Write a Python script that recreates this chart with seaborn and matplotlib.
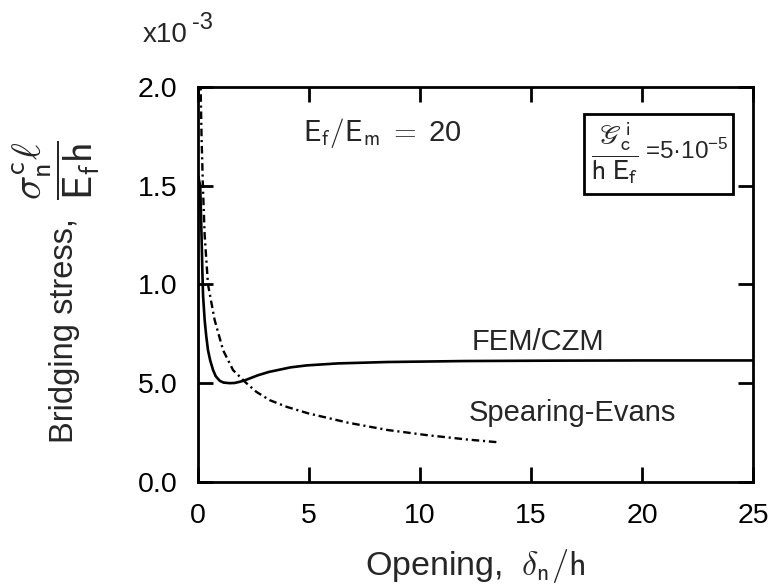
import matplotlib
matplotlib.use("Agg")
import matplotlib.pyplot as plt
from matplotlib.patches import Rectangle
import pandas as pd
import seaborn as sns

# --- data (stress in units of 1e-3) ---------------------------------------
fem_opening = [0.0, 0.0, 0.1, 0.17, 0.2, 0.23, 0.3, 0.37, 0.45, 0.55, 0.68,
               0.8, 0.98, 1.15, 1.43, 1.65, 1.88, 2.1, 2.33, 2.7, 3.2, 4.17,
               4.9, 6.3, 8.5, 12.0, 16.0, 20.0, 25.0]
fem_stress = [0.0, 1.55, 1.5, 1.2, 1.05, 0.94, 0.82, 0.74, 0.667, 0.615, 0.566,
              0.535, 0.512, 0.503, 0.5, 0.501, 0.507, 0.514, 0.524, 0.54, 0.557,
              0.58, 0.59, 0.6, 0.607, 0.612, 0.614, 0.615, 0.615]

se_opening = [0.11, 0.16, 0.22, 0.3, 0.45, 0.75, 1.13, 1.58, 2.18, 2.63, 3.23,
              4.0, 4.97, 6.75, 8.53, 10.3, 12.1, 13.6]
se_stress = [2.05, 1.75, 1.5, 1.25, 1.0, 0.82, 0.667, 0.566, 0.5, 0.456, 0.414,
             0.38, 0.347, 0.3, 0.263, 0.237, 0.215, 0.2]

x_ticks = [0, 5, 10, 15, 20, 25]
x_tick_labels = ["0", "5", "10", "15", "20", "25"]
y_ticks = [0.0, 0.5, 1.0, 1.5, 2.0]
y_tick_labels = ["0.0", "5.0", "1.0", "1.5", "2.0"]

# --- style ------------------------------------------------------------------
sns.set_style("ticks")
plt.rcParams["font.family"] = ["Liberation Sans", "DejaVu Sans"]
plt.rcParams["mathtext.fontset"] = "custom"
plt.rcParams["mathtext.rm"] = "Liberation Sans"
plt.rcParams["mathtext.it"] = "Liberation Sans:italic"
plt.rcParams["mathtext.bf"] = "Liberation Sans:bold"
plt.rcParams["mathtext.sf"] = "Liberation Sans"

fem = pd.DataFrame({"opening": fem_opening, "stress": fem_stress})
se = pd.DataFrame({"opening": se_opening, "stress": se_stress})

fig = plt.figure(figsize=(7.71, 5.87), dpi=100)
ax = fig.add_axes([0.2568, 0.179, 0.7199, 0.673])

sns.lineplot(data=fem, x="opening", y="stress", estimator=None, sort=False,
             color="black", lw=1.9, ax=ax)
sns.lineplot(data=se, x="opening", y="stress", estimator=None, sort=False,
             color="black", lw=1.7, linestyle=(0, (3.2, 1.6, 0.9, 1.6)), ax=ax)

ax.set_xlim(0, 25)
ax.set_ylim(0, 2.0)
ax.set_xticks(x_ticks, x_tick_labels)
ax.set_yticks(y_ticks, y_tick_labels)
ax.tick_params(axis="both", direction="in", length=11, width=2,
               top=True, right=True, labelsize=20.5, colors="black")
ax.tick_params(axis="x", pad=15)
ax.tick_params(axis="y", pad=15)
for s in ax.spines.values():
    s.set_linewidth(2)
    s.set_color("black")

ax.set_xlabel(r"Opening,  $\delta_{\mathsf{n}}/\mathsf{h}$", fontsize=24.5,
              math_fontfamily="cm", labelpad=13)
ax.set_ylabel("Bridging stress,", fontsize=23.5)
ax.yaxis.set_label_coords(-0.2126, 0.382)
# normalised stress symbol next to the axis title
fig.text(0.0723, 0.7104,
         r"$\dfrac{\sigma^{\mathsf{c}}_{\mathsf{n}}\ell}{\mathsf{E}_{\mathsf{f}}\mathsf{h}}$",
         fontsize=29, math_fontfamily="cm", rotation=90,
         ha="center", va="center")

# axis multiplier
fig.text(0.1855, 0.9284, "x10", fontsize=20, ha="left", va="baseline")
fig.text(0.249, 0.9506, "-3", fontsize=17, ha="left", va="baseline")

ax.text(4.73, 1.767, r"$\mathsf{E}_\mathsf{f}/\mathsf{E}_\mathsf{m}\;=\;$20",
        fontsize=21, math_fontfamily="cm", ha="left", va="center")
ax.text(12.34, 0.709, "FEM/CZM", fontsize=21, ha="left", va="center")
ax.text(12.17, 0.347, "Spearing-Evans", fontsize=21, ha="left", va="center")

ax.add_patch(Rectangle((17.4, 1.458), 6.7, 0.405, lw=2, ec="black",
                       fc="white", zorder=3))
ax.text(18.78, 1.665,
        r"$\dfrac{\mathscr{G}_{\mathrm{c}}^{\mathrm{i}}}{\mathrm{h\ E}_{\mathrm{f}}}$",
        fontsize=20.5, math_fontfamily="stixsans", ha="center", va="center", zorder=4)
ax.text(20.15, 1.675, r"=5·10$^{-5}$", fontsize=17.5, ha="left", va="center",
        zorder=4)

fig.savefig("out.png", dpi=100)
